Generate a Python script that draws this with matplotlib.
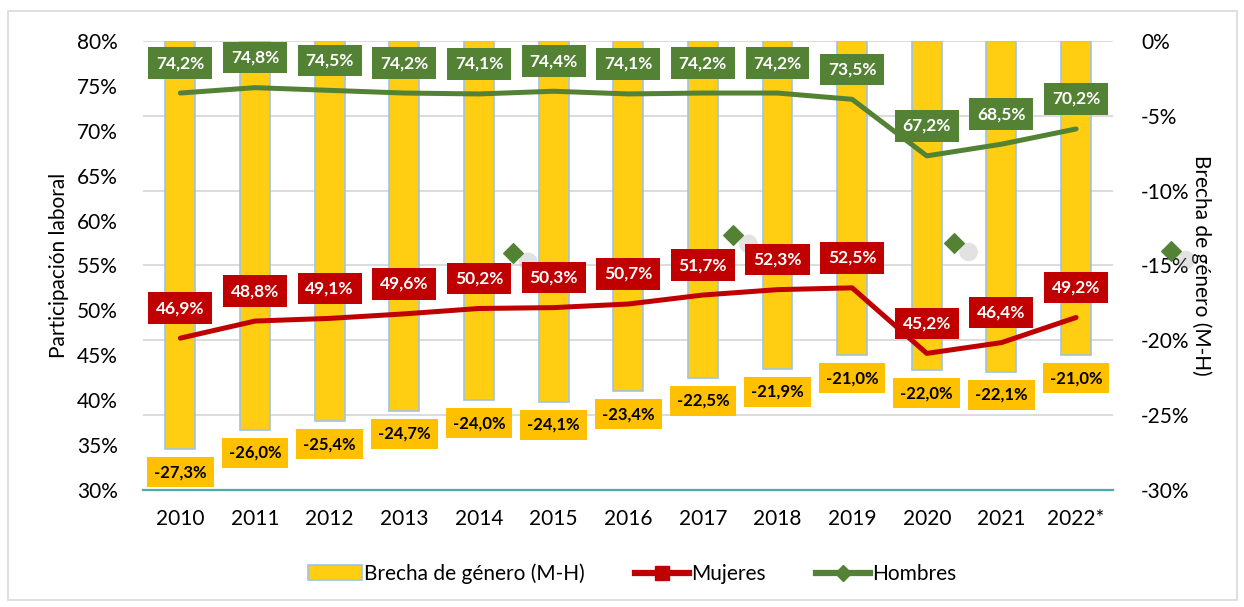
import matplotlib
matplotlib.use("Agg")
import matplotlib.pyplot as plt
from matplotlib.lines import Line2D
from matplotlib.patches import Patch, Rectangle
from matplotlib.ticker import FuncFormatter
import numpy as np

plt.rcParams['font.family'] = ['Lato', 'DejaVu Sans']

years = ['2010', '2011', '2012', '2013', '2014', '2015', '2016',
         '2017', '2018', '2019', '2020', '2021', '2022*']
mujeres = [46.9, 48.8, 49.1, 49.6, 50.2, 50.3, 50.7, 51.7, 52.3, 52.5, 45.2, 46.4, 49.2]
hombres = [74.2, 74.8, 74.5, 74.2, 74.1, 74.4, 74.1, 74.2, 74.2, 73.5, 67.2, 68.5, 70.2]
brecha = [-27.3, -26.0, -25.4, -24.7, -24.0, -24.1, -23.4, -22.5, -21.9, -21.0, -22.0, -22.1, -21.0]

# stray diamond markers that show up in the original picture
stray_x = [4.46, 7.41, 10.36, 13.27]
stray_y = [56.4, 58.4, 57.5, 56.6]

red = '#C00000'
green = '#548235'
yellow = '#FFCD11'
label_yellow = '#FFC000'

fig = plt.figure(figsize=(12.44, 6.07), dpi=100)
fig.patches.append(Rectangle((0.0065, 0.012), 0.988, 0.97, transform=fig.transFigure,
                             fill=False, edgecolor='#D9D9D9', linewidth=1.2))

ax = fig.add_axes([0.115, 0.193, 0.78, 0.7395])
ax2 = ax.twinx()
x = np.arange(len(years))

# gridlines sit on the bar axis, underneath the bars
for v in np.arange(-25, 1, 5):
    ax2.axhline(v, color='#D9D9D9', linewidth=1.3, zorder=0)

# bars on secondary axis, hanging from 0%
ax2.bar(x, brecha, width=0.4, color=yellow, edgecolor='#9DC3E6', linewidth=1.2, zorder=2)
ax2.set_ylim(-30, 0)
ax2.set_yticks(np.arange(-30, 1, 5))
ax2.yaxis.set_major_formatter(FuncFormatter(lambda v, p: '%d%%' % v))
ax2.tick_params(axis='y', length=0, labelsize=15, pad=20)
ax2.set_ylabel('Brecha de género (M-H)', fontsize=15, rotation=-90, labelpad=16)

for xi, b in zip(x, brecha):
    ax2.annotate(('%.1f%%' % b).replace('.', ','), (xi, b), xytext=(0, -23),
                 textcoords='offset pixels', ha='center', va='center',
                 fontsize=12, fontweight='bold', color='black', zorder=6,
                 bbox=dict(boxstyle='square,pad=0.42', fc=label_yellow, ec='none'))

# lines drawn on primary axis, put it on top
ax.set_zorder(ax2.get_zorder() + 1)
ax.patch.set_visible(False)
ax.plot(x, mujeres, color=red, linewidth=3.6, zorder=4, solid_capstyle='round')
ax.plot(x, hombres, color=green, linewidth=3.6, zorder=4, solid_capstyle='round')

for xi, m in zip(x, mujeres):
    ax.annotate(('%.1f%%' % m).replace('.', ','), (xi, m), xytext=(0, 30),
                textcoords='offset pixels', ha='center', va='center',
                fontsize=12.5, fontweight='bold', color='white', zorder=6,
                bbox=dict(boxstyle='square,pad=0.45', fc=red, ec='none'))
for xi, h in zip(x, hombres):
    ax.annotate(('%.1f%%' % h).replace('.', ','), (xi, h), xytext=(0, 30),
                textcoords='offset pixels', ha='center', va='center',
                fontsize=12.5, fontweight='bold', color='white', zorder=6,
                bbox=dict(boxstyle='square,pad=0.45', fc=green, ec='none'))

ax.scatter([sx + 0.2 for sx in stray_x], [sy - 1.0 for sy in stray_y], s=180, marker='o',
           color='#A0A0A0', alpha=0.3, edgecolors='none', clip_on=False, zorder=3)
ax.scatter(stray_x, stray_y, s=100, marker='D', color=green, clip_on=False, zorder=5)

ax.set_ylim(30, 80)
ax.set_xlim(-0.5, len(years) - 0.5)
ax.set_yticks(np.arange(30, 81, 5))
ax.yaxis.set_major_formatter(FuncFormatter(lambda v, p: '%d%%' % v))
ax.set_xticks(x)
ax.set_xticklabels(years)
ax.tick_params(axis='both', length=0, labelsize=15)
ax.tick_params(axis='x', pad=14)
ax.tick_params(axis='y', pad=18)
ax.set_ylabel('Participación laboral', fontsize=15, labelpad=6)

for a in (ax, ax2):
    for s in a.spines.values():
        s.set_visible(False)
ax.spines['bottom'].set_visible(True)
ax.spines['bottom'].set_color('#4BACA6')
ax.spines['bottom'].set_linewidth(1.6)

handles = [
    Patch(facecolor=yellow, edgecolor='#9DC3E6', linewidth=1.2),
    Line2D([0], [0], color=red, linewidth=4.5, marker='s', markersize=10),
    Line2D([0], [0], color=green, linewidth=4.5, marker='D', markersize=8),
]
fig.legend(handles, ['Brecha de género (M-H)', 'Mujeres', 'Hombres'],
           loc='center', bbox_to_anchor=(0.508, 0.055), ncol=3, frameon=False,
           fontsize=15, handlelength=2.6, handletextpad=0.1, columnspacing=2.4)

fig.savefig('out.png', dpi=100)
